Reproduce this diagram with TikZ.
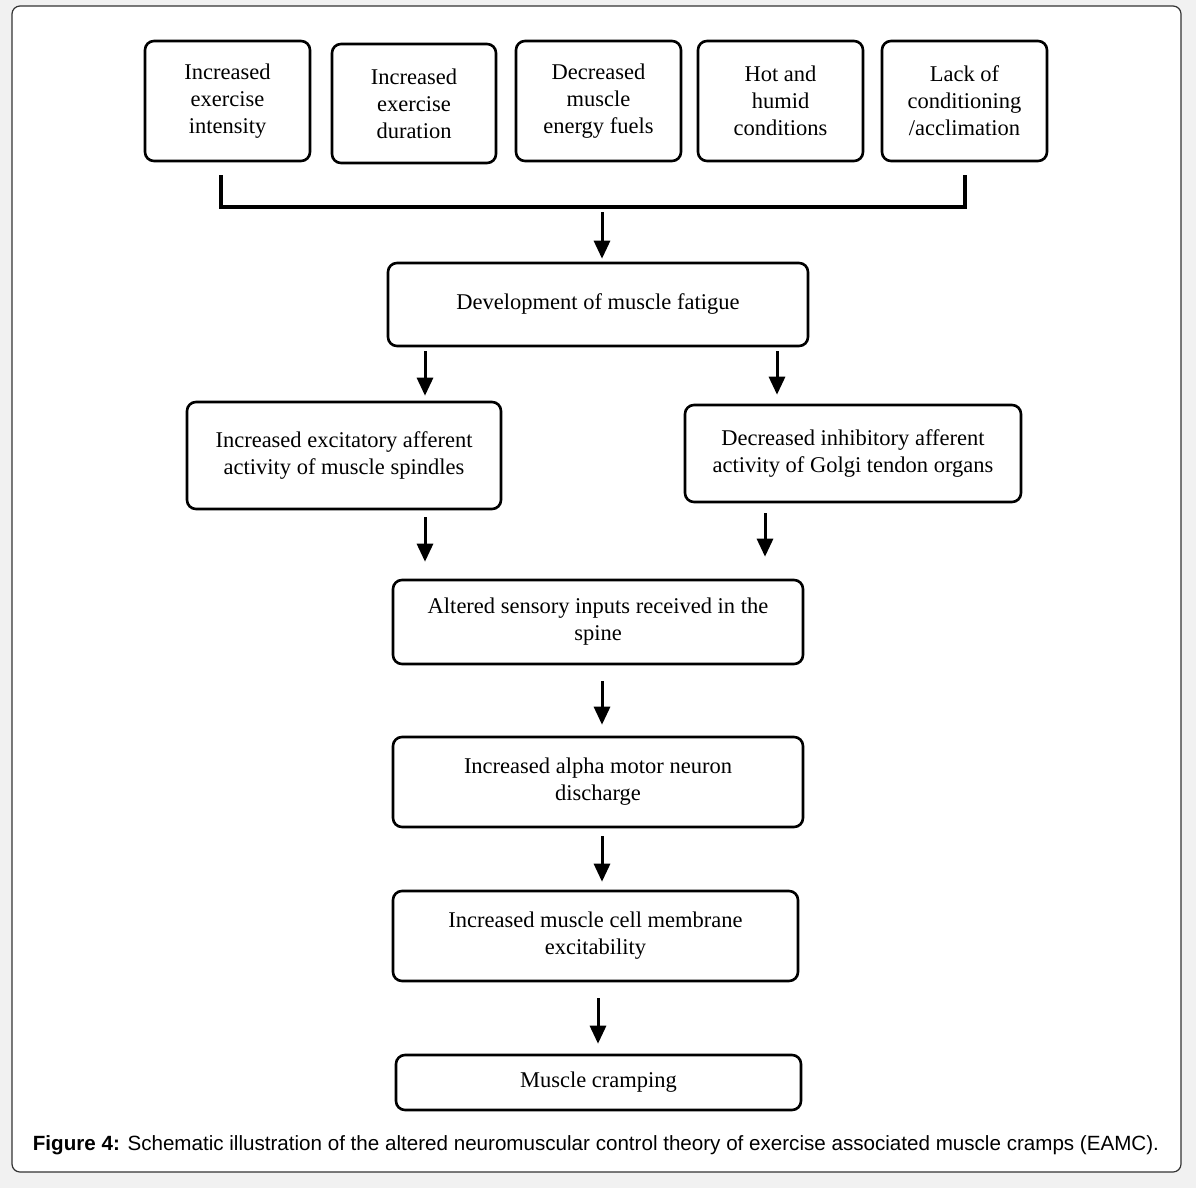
\documentclass[tikz,border=0pt]{standalone}
\usepackage{fontspec}
\setmainfont{Liberation Serif}
\newfontfamily\capfont{Liberation Sans}
\usetikzlibrary{arrows.meta}
\definecolor{pagegray}{RGB}{241,241,241}
\tikzset{
  box/.style={draw, line width=2.6pt, rounded corners=9pt, align=center,
    font=\fontsize{22.5}{27}\selectfont, inner sep=0pt},
  arr/.style={line width=3pt, -{Triangle[length=18pt,width=16pt]}},
  bracket/.style={line width=4pt}
}
\begin{document}
\begin{tikzpicture}[x=1pt,y=-1pt]
  \useasboundingbox (0,0) rectangle (1196,1188);
  \fill[pagegray] (0,0) rectangle (1196,1188);
  \draw[fill=white, draw=black!80, line width=1.2pt, rounded corners=8pt] (12,6) rectangle (1181,1172);

  % causes
  \node[box, minimum width=165pt, minimum height=120pt] (intens) at (227.5,101) {Increased\\exercise\\intensity};
  \node[box, minimum width=164pt, minimum height=119pt] (durat) at (414,103.5) {Increased\\exercise\\duration};
  \node[box, minimum width=165pt, minimum height=120pt] (fuels) at (598.5,101) {Decreased\\muscle\\energy fuels};
  \node[box, minimum width=165pt, minimum height=120pt] (humid) at (780.5,101) {Hot and\\humid\\conditions};
  \node[box, minimum width=165pt, minimum height=120pt] (acclim) at (964.5,101) {Lack of\\conditioning\\/acclimation};

  \draw[bracket] (221,175) |- (965,207) -- (965,175);
  \coordinate (brmid) at (602,207);

  \node[box, minimum width=420pt, minimum height=83pt] (fatigue) at (598,304.5) {Development of muscle fatigue};
  \node[box, minimum width=314pt, minimum height=107pt] (spindle) at (344,455.5) {Increased excitatory afferent\\activity of muscle spindles};
  \node[box, minimum width=336pt, minimum height=97pt] (golgi) at (853,453.5) {Decreased inhibitory afferent\\activity of Golgi tendon organs};
  \node[box, minimum width=410pt, minimum height=84pt] (spine) at (598,622) {Altered sensory inputs received in the\\spine};
  \node[box, minimum width=410pt, minimum height=90pt] (alpha) at (598,782) {Increased alpha motor neuron\\discharge};
  \node[box, minimum width=405pt, minimum height=90pt] (membr) at (595.5,936) {Increased muscle cell membrane\\excitability};
  \node[box, minimum width=405pt, minimum height=55pt] (cramp) at (598.5,1082.5) {Muscle cramping};

  \coordinate (xl) at (425,0);
  \coordinate (xr) at (777,0);
  \coordinate (xg) at (765,0);
  \coordinate (xm) at (598,0);

  \draw[arr, shorten <=5pt, shorten >=3pt] (brmid) -- (fatigue.north -| brmid);
  \draw[arr, shorten <=4pt, shorten >=5pt] (fatigue.south -| xl) -- (spindle.north -| xl);
  \draw[arr, shorten <=4pt, shorten >=9pt] (fatigue.south -| xr) -- (golgi.north -| xr);
  \draw[arr, shorten <=7pt, shorten >=17pt] (spindle.south -| xl) -- (spine.north -| xl);
  \draw[arr, shorten <=10pt, shorten >=22pt] (golgi.south -| xg) -- (spine.north -| xg);
  \draw[arr, shorten <=16pt, shorten >=11pt] (spine.south -| brmid) -- (alpha.north -| brmid);
  \draw[arr, shorten <=8pt, shorten >=8pt] (alpha.south -| brmid) -- (membr.north -| brmid);
  \draw[arr, shorten <=16pt, shorten >=10pt] (membr.south -| xm) -- (cramp.north -| xm);

  \node[font=\capfont\fontsize{20.6}{24}\selectfont, inner sep=0pt] (caption) at (596,1145)
    {\textbf{Figure 4:} Schematic illustration of the altered neuromuscular control theory of exercise associated muscle cramps (EAMC).};
\end{tikzpicture}
\end{document}
